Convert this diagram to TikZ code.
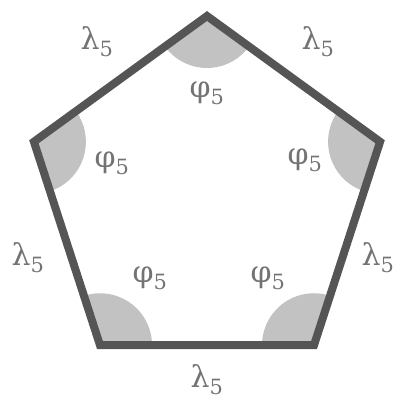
\documentclass[tikz,border=0pt]{standalone}
\usepackage{fontspec}
\setmainfont{DejaVu Serif}
\usetikzlibrary{positioning, calc}
\definecolor{edgegray}{HTML}{555555}
\definecolor{wedgegray}{HTML}{C2C2C2}
\definecolor{textgray}{HTML}{737373}
\tikzset{
  side/.style={draw=edgegray, line width=8pt, line join=miter},
  wedge/.style={fill=wedgegray},
  lbl/.style={text=textgray, font=\fontsize{30}{34}\selectfont, inner sep=0pt}
}
\newcommand{\lam}{λ\textsubscript{5}}
\newcommand{\phii}{φ\textsubscript{5}}
\begin{document}
\begin{tikzpicture}[x=1pt, y=1pt]
  \useasboundingbox (0,0) rectangle (398,399);
  % centre and corners
  \coordinate (C) at (207,201);
  \foreach \i/\a in {1/90, 2/162, 3/234, 4/306, 5/18}
    \coordinate (P\i) at ($(C)+(\a:182)$);
  % angle wedges
  \foreach \i/\a in {1/90, 2/162, 3/234, 4/306, 5/18}
    \fill[wedge] (P\i) -- ++(\a+126:52) arc[start angle=\a+126, end angle=\a+234, radius=52] -- cycle;
  % sides
  \draw[side] (P1) -- (P2) -- (P3) -- (P4) -- (P5) -- cycle;
  % side labels
  \node[lbl] (L1) at (97,357) {\lam};
  \node[lbl] (L2) at (318,357) {\lam};
  \node[lbl] (L3) at (28,141) {\lam};
  \node[lbl] (L4) at (378,141) {\lam};
  \node[lbl] (L5) at (207,19) {\lam};
  % angle labels
  \node[lbl] (A1) at (207,306) {\phii};
  \node[lbl] (A2) at (112,236) {\phii};
  \node[lbl] (A3) at (305,239) {\phii};
  \node[lbl] (A4) at (150,121) {\phii};
  \node[lbl] (A5) at (268,121) {\phii};
\end{tikzpicture}
\end{document}
